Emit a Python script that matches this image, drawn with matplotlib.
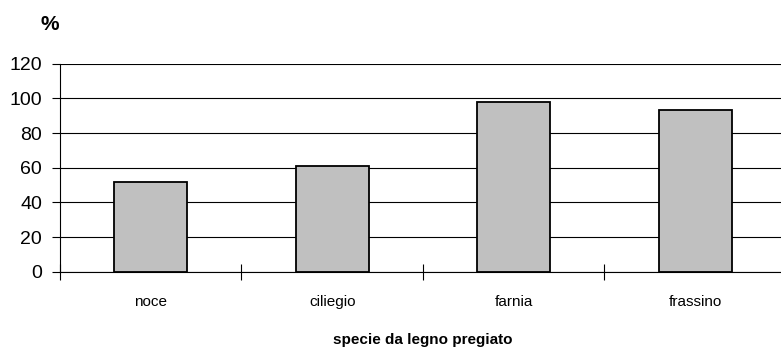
import matplotlib.pyplot as plt
from matplotlib.ticker import FixedLocator

plt.rcParams['font.family'] = ['Liberation Sans', 'DejaVu Sans']

species = ['noce', 'ciliegio', 'farnia', 'frassino']
percent = [52, 61, 98, 93.5]
y_ticks = [0, 20, 40, 60, 80, 100, 120]


def main():
    fig = plt.figure(figsize=(7.81, 3.52), dpi=100)
    ax = fig.add_axes([0.0768, 0.228, 0.9296, 0.591])

    x = range(len(species))
    ax.bar(x, percent, width=0.40, color='#C0C0C0', edgecolor='black',
           linewidth=1.3, zorder=3)

    ax.set_xlim(-0.5, len(species) - 0.5)
    ax.set_ylim(0, 120)
    ax.set_yticks(y_ticks)
    ax.yaxis.grid(True, color='black', linewidth=0.8, zorder=0)
    ax.set_axisbelow(True)

    ax.set_xticks(list(x))
    ax.set_xticklabels(species, fontsize=11)
    ax.xaxis.set_minor_locator(FixedLocator([i + 0.5 for i in range(-1, len(species))]))
    ax.tick_params(axis='x', which='major', length=0, pad=17)
    ax.tick_params(axis='x', which='minor', direction='inout', length=12, width=0.8)
    ax.tick_params(axis='y', direction='out', length=6, width=0.8, labelsize=14, pad=7)

    for side in ('top', 'right'):
        ax.spines[side].set_visible(False)
    ax.spines['left'].set_linewidth(0.8)
    ax.spines['bottom'].set_linewidth(0.8)

    ax.set_xlabel('specie da legno pregiato', fontsize=11, fontweight='bold',
                  labelpad=17)
    fig.text(50 / 781, 1 - 24 / 352, '%', fontsize=15, fontweight='bold',
             ha='center', va='center')

    fig.savefig('out.png', dpi=100)


if __name__ == '__main__':
    main()
